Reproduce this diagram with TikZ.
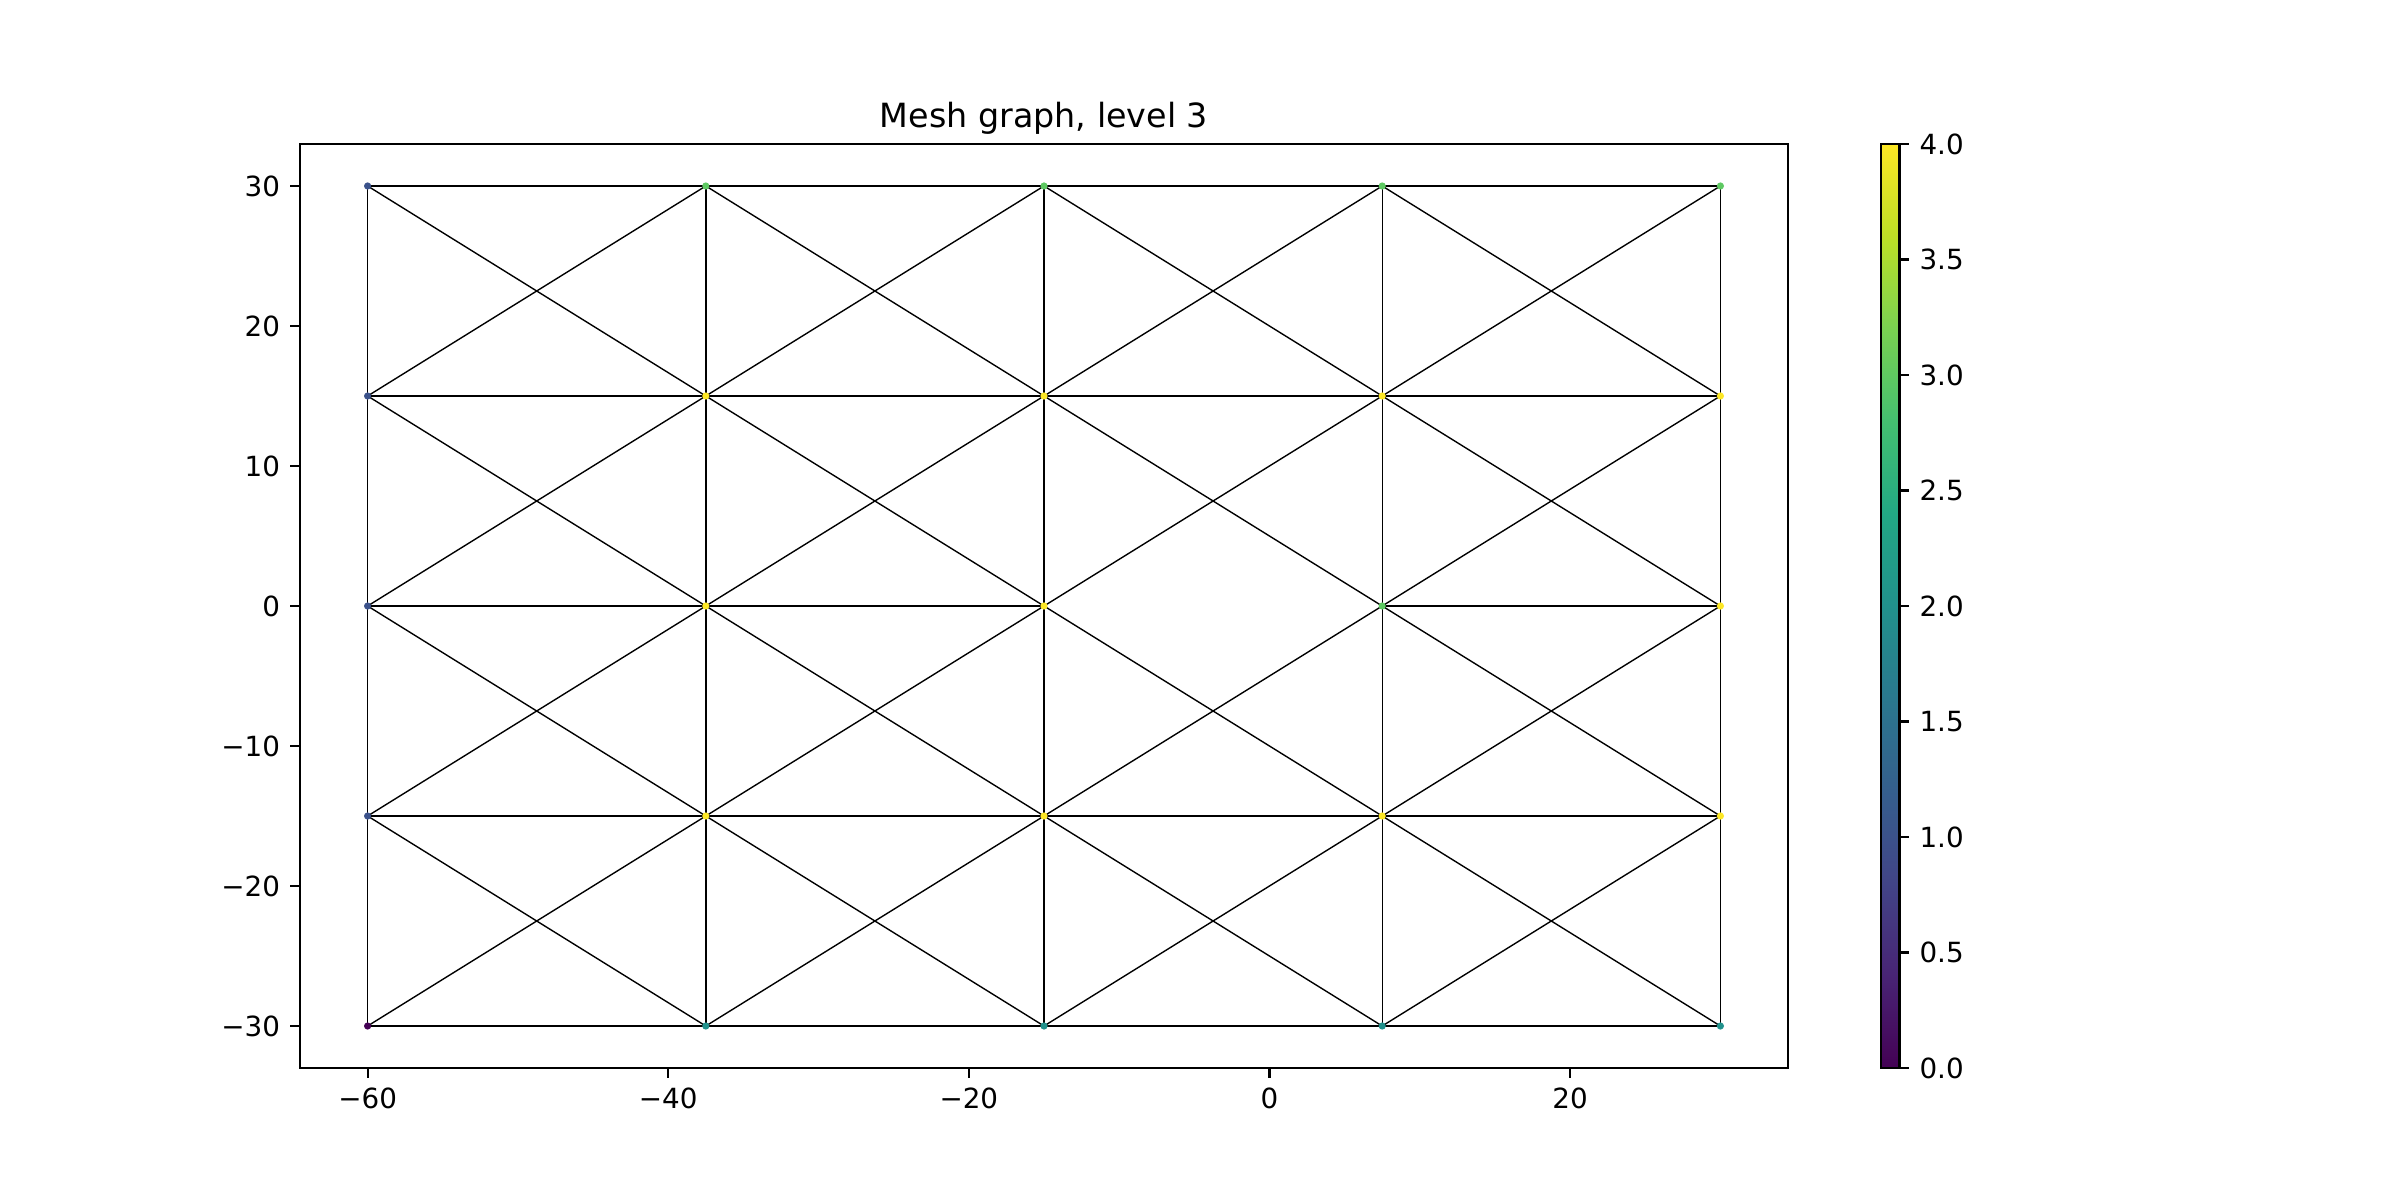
\documentclass[tikz,border=0pt]{standalone}
\usepackage{fontspec}
\setmainfont{DejaVu Sans}
\usepackage{xcolor}
% node values (viridis, 0 to 4)
\definecolor{lev0}{HTML}{440154}
\definecolor{lev1}{HTML}{3B528B}
\definecolor{lev2}{HTML}{21918C}
\definecolor{lev3}{HTML}{5EC962}
\definecolor{lev4}{HTML}{FDE725}
% colour bar stops
\definecolor{vd0}{HTML}{440154}
\definecolor{vd1}{HTML}{482475}
\definecolor{vd2}{HTML}{414487}
\definecolor{vd3}{HTML}{355F8D}
\definecolor{vd4}{HTML}{2A788E}
\definecolor{vd5}{HTML}{21918C}
\definecolor{vd6}{HTML}{22A884}
\definecolor{vd7}{HTML}{44BF70}
\definecolor{vd8}{HTML}{7AD151}
\definecolor{vd9}{HTML}{BDDF26}
\definecolor{vd10}{HTML}{FDE725}
\usepackage{tikz}
\usetikzlibrary{positioning}
\pgfdeclareverticalshading{viridis}{100bp}{color(0bp)=(vd0); color(25bp)=(vd0);
  color(30bp)=(vd1); color(35bp)=(vd2); color(40bp)=(vd3); color(45bp)=(vd4);
  color(50bp)=(vd5); color(55bp)=(vd6); color(60bp)=(vd7); color(65bp)=(vd8);
  color(70bp)=(vd9); color(75bp)=(vd10); color(100bp)=(vd10)}

\begin{document}
\begin{tikzpicture}[
            x=0.36pt, y=0.36pt,
            spine/.style={line width=0.8pt, black},
            edge/.style={line width=0.5pt, black},
            meshpt/.style={circle, inner sep=0pt, minimum size=2.6pt},
            ticklab/.style={font=\fontsize{10}{12}\selectfont, inner sep=0pt},
            titlelab/.style={font=\fontsize{12}{14}\selectfont, inner sep=0pt}
        ]

        % --- page and frames ---
        \fill[white] (0,0) rectangle (2400,1200);
        \useasboundingbox (0,0) rectangle (2400,1200);
        \coordinate (ax-sw) at (300,132);
        \coordinate (ax-ne) at (1788,1056);
        \coordinate (cb-sw) at (1881,132);
        \coordinate (cb-ne) at (1899.5,1056);

        \node[titlelab, anchor=base] (title) at (1044,1072.7) {Mesh graph, level 3};

        % --- MESH (data coordinates) ---
        \begin{scope}[shift={(1269.45,594)}, x=5.411pt, y=5.04pt]
            \foreach \xv [count=\c from 0] in {-60,-37.5,-15,7.5,30}
                \foreach \yv [count=\r from 0] in {-30,-15,0,15,30}
                    \coordinate (m-\c-\r) at (\xv,\yv);

            % horizontal edges, (-15,0)--(7.5,0) is missing
            \foreach \c in {0,...,3}
                \foreach \r in {0,...,4} {
                    \pgfmathtruncatemacro{\cnext}{\c+1}
                    \ifnum\c\r=22 \else \draw[edge] (m-\c-\r) -- (m-\cnext-\r); \fi
                }
            % vertical edges
            \foreach \c in {0,...,4}
                \foreach \r in {0,...,3} {
                    \pgfmathtruncatemacro{\rnext}{\r+1}
                    \draw[edge] (m-\c-\r) -- (m-\c-\rnext);
                }
            % both diagonals in every cell
            \foreach \c in {0,...,3}
                \foreach \r in {0,...,3} {
                    \pgfmathtruncatemacro{\cnext}{\c+1}
                    \pgfmathtruncatemacro{\rnext}{\r+1}
                    \draw[edge] (m-\c-\r) -- (m-\cnext-\rnext);
                    \draw[edge] (m-\c-\rnext) -- (m-\cnext-\r);
                }

            \foreach \c/\r/\col in {
                    0/4/lev1, 1/4/lev3, 2/4/lev3, 3/4/lev3, 4/4/lev3,
                    0/3/lev1, 1/3/lev4, 2/3/lev4, 3/3/lev4, 4/3/lev4,
                    0/2/lev1, 1/2/lev4, 2/2/lev4, 3/2/lev3, 4/2/lev4,
                    0/1/lev1, 1/1/lev4, 2/1/lev4, 3/1/lev4, 4/1/lev4,
                    0/0/lev0, 1/0/lev2, 2/0/lev2, 3/0/lev2, 4/0/lev2}
                \node[meshpt, fill=\col] (p-\c-\r) at (m-\c-\r) {};

            % axis ticks
            \foreach \xv/\lab [count=\k] in {-60/−60, -40/−40, -20/−20, 0/0, 20/20} {
                \draw[spine] (\xv,-33) -- ++(0pt,-3.5pt) coordinate (xt-\k);
                \node[ticklab, below=3.5pt of xt-\k] (xl-\k) {\lab};
            }
            \foreach \yv/\lab [count=\k] in {-30/−30, -20/−20, -10/−10, 0/0, 10/10, 20/20, 30/30} {
                \draw[spine] (-64.5,\yv) -- ++(-3.5pt,0pt) coordinate (yt-\k);
                \node[ticklab, left=3.5pt of yt-\k] (yl-\k) {\lab};
            }
        \end{scope}

        \draw[spine] (ax-sw) rectangle (ax-ne);

        % --- COLOUR BAR ---
        \shade[shading=viridis] (cb-sw) rectangle (cb-ne);
        \draw[spine] (cb-sw) rectangle (cb-ne);
        \foreach \lab [count=\k from 0] in {0.0,0.5,1.0,1.5,2.0,2.5,3.0,3.5,4.0} {
            \draw[spine] (1899.5,132+\k*115.5) -- ++(3.5pt,0pt) coordinate (ct-\k);
            \node[ticklab, right=3.5pt of ct-\k] (cl-\k) {\lab};
        }

        \end{tikzpicture}
\end{document}
